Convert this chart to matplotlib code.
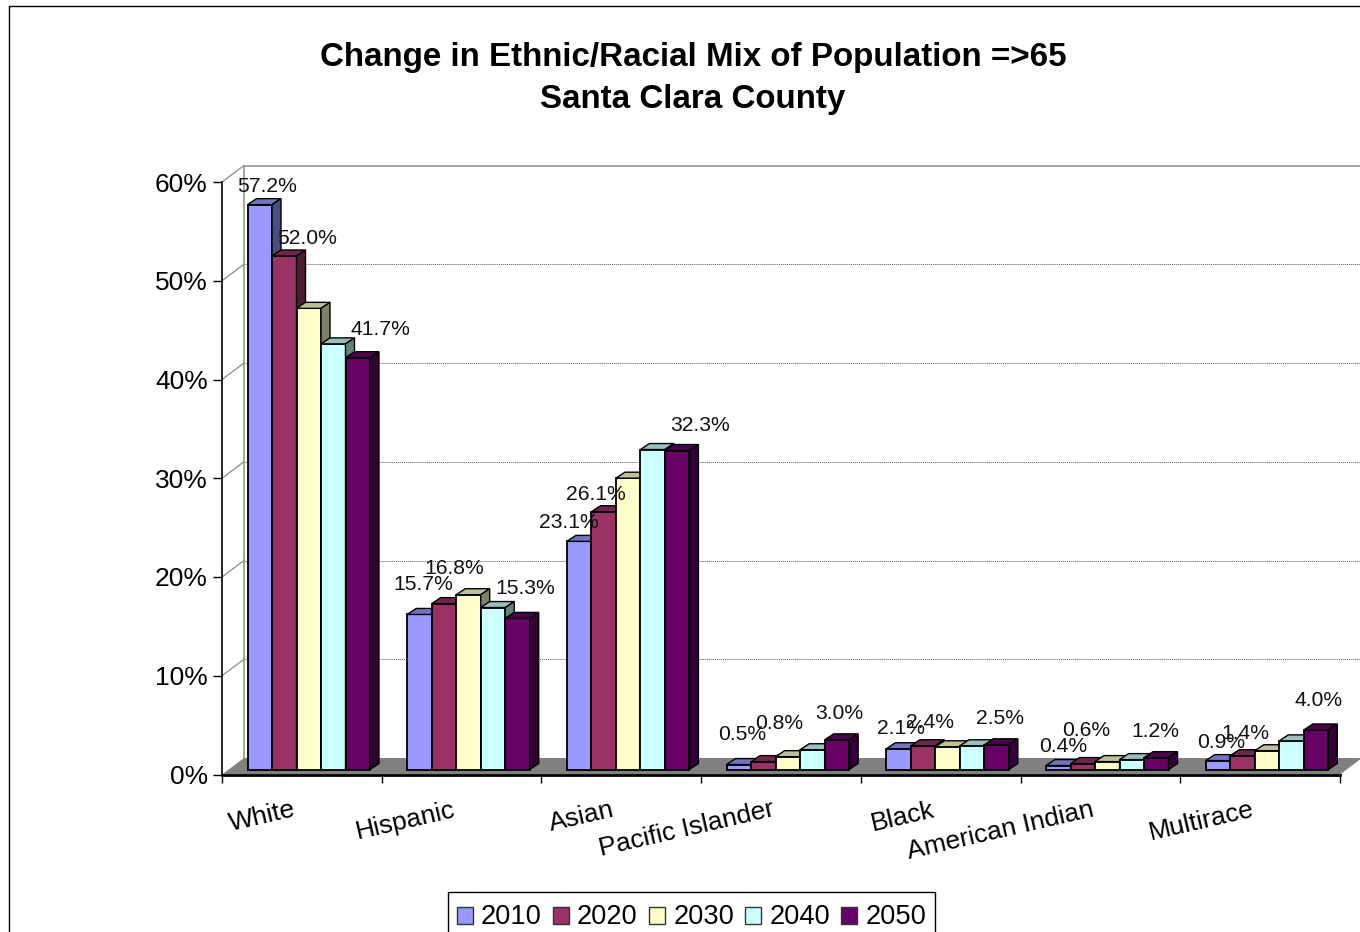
import matplotlib
matplotlib.use('Agg')
import matplotlib.pyplot as plt
from matplotlib.patches import Patch, Polygon, Rectangle

plt.rcParams['font.family'] = ['Liberation Sans', 'DejaVu Sans']

# values in percent
categories = ['White', 'Hispanic', 'Asian', 'Pacific Islander', 'Black', 'American Indian', 'Multirace']
years = ['2010', '2020', '2030', '2040', '2050']
y2010 = [57.2, 15.7, 23.1, 0.5, 2.1, 0.4, 0.9]
y2020 = [52.0, 16.8, 26.1, 0.8, 2.4, 0.6, 1.4]
y2030 = [46.7, 17.7, 29.5, 1.3, 2.3, 0.8, 1.9]
y2040 = [43.1, 16.4, 32.4, 2.0, 2.4, 1.0, 2.9]
y2050 = [41.7, 15.3, 32.3, 3.0, 2.5, 1.2, 4.0]
series = [y2010, y2020, y2030, y2040, y2050]
colors = ['#9999FF', '#993366', '#FFFFCC', '#CCFFFF', '#660066']
y_ticks = [0, 10, 20, 30, 40, 50, 60]

# hand placed data labels (pixels from the front top of the bar), series 2010, 2020, 2050
label_series = [0, 1, 4]
label_nudge = [
    [(7, 18), (23, 17), (23, 28)],
    [(4, 30), (10, 35), (8, 30)],
    [(-10, 19), (-8, 17), (23, 25)],
    [(3, 30), (16, 38), (2, 26)],
    [(2, 20), (7, 23), (3, 26)],
    [(5, 19), (3, 33), (-1, 26)],
    [(3, 18), (3, 22), (3, 29)],
]

W, H = 1360, 932
fig = plt.figure(figsize=(W / 100, H / 100), dpi=100, facecolor='white')
ax = fig.add_axes([222 / W, (H - 774.5) / H, 1118 / W, 592.5 / H])
ax.set_xlim(0, 7)
ax.set_ylim(0, 60)
ax.patch.set_visible(False)

px_x = 7 / 1118  # one pixel in axis units
px_y = 60 / 592.5

# chart frame, runs off the canvas at right and bottom
fig.add_artist(Rectangle((8.5 / W, -0.1), 1.2, 1.1 - 6 / H, transform=fig.transFigure,
                         fill=False, edgecolor='black', linewidth=1.0))

# walls and floor
depth_x = 22 * px_x
depth_y = 16.5 * px_y
ax.add_patch(Polygon([(0, 0), (depth_x, depth_y), (7 + depth_x, depth_y), (7, 0)],
                     facecolor='#808080', edgecolor='none', clip_on=False, zorder=1))
for t in y_ticks[1:]:
    ax.plot([0, depth_x], [t, t + depth_y], color='#969696', lw=1.0, clip_on=False, zorder=1)
    if t == 60:
        ax.plot([depth_x, 7.2], [t + depth_y] * 2, color='#969696', lw=1.2, clip_on=False, zorder=1)
    else:
        ax.plot([depth_x, 7.2], [t + depth_y] * 2, color='#555555', lw=0.7, ls=(0, (1, 1)),
                clip_on=False, zorder=1)
ax.plot([depth_x, depth_x], [depth_y, 60 + depth_y], color='#969696', lw=1.2, clip_on=False, zorder=1)

# bars
bar_w = 24.5 * px_x
start = 25.5 * px_x
lift = 5 * px_y
bar_dx = 9 * px_x
bar_dy = 6 * px_y


def shade(color, k):
    r, g, b = matplotlib.colors.to_rgb(color)
    return (r * k, g * k, b * k)


z = 3
for i in range(len(categories)):
    for j, vals in enumerate(series):
        left = i + start + j * bar_w
        right = left + bar_w
        top = lift + vals[i]
        ax.bar(left, vals[i], bar_w, bottom=lift, align='edge', color=colors[j],
               edgecolor='black', linewidth=1.3, zorder=z, clip_on=False)
        ax.add_patch(Polygon([(left, top), (left + bar_dx, top + bar_dy),
                              (right + bar_dx, top + bar_dy), (right, top)],
                             facecolor=shade(colors[j], 0.75), edgecolor='black',
                             linewidth=1.0, zorder=z, clip_on=False))
        ax.add_patch(Polygon([(right, lift), (right + bar_dx, lift + bar_dy),
                              (right + bar_dx, top + bar_dy), (right, top)],
                             facecolor=shade(colors[j], 0.5), edgecolor='black',
                             linewidth=1.0, zorder=z, clip_on=False))
        z += 1

# data labels
for i in range(len(categories)):
    for k, j in enumerate(label_series):
        dx, dy = label_nudge[i][k]
        xpos = i + start + (j + 0.5) * bar_w
        v = series[j][i]
        ax.annotate(f'{v:.1f}%', (xpos, lift + v), xytext=(dx * 0.72, dy * 0.72),
                    textcoords='offset points', ha='center', va='center',
                    fontsize=15.2, color='#111111', zorder=200, annotation_clip=False)

# axes
for s in ['top', 'right']:
    ax.spines[s].set_visible(False)
ax.spines['left'].set_linewidth(1.2)
ax.spines['bottom'].set_linewidth(2.0)
ax.spines['left'].set_zorder(100)
ax.spines['bottom'].set_zorder(100)
ax.set_yticks(y_ticks)
ax.set_yticklabels([f'{t}%' for t in y_ticks], fontsize=19)
ax.tick_params(axis='y', length=6.5, width=1.0, pad=3.7)
ax.set_xticks(range(8))
ax.set_xticklabels([])
ax.tick_params(axis='x', length=6, width=1.0)

for i, name in enumerate(categories):
    ax.annotate(name, (i + 0.5, 0), xytext=(-5, -25), textcoords='offset points',
                ha='right', va='center', rotation=13, rotation_mode='anchor',
                fontsize=19, annotation_clip=False)

# title
fig.text(693 / W, 1 - 78.5 / H, 'Change in Ethnic/Racial Mix of Population =>65\nSanta Clara County',
         ha='center', va='center', fontsize=23.9, fontweight='bold', linespacing=1.45)

# legend
handles = [Patch(facecolor=c, edgecolor='#333333', linewidth=1.0) for c in colors]
leg = fig.legend(handles, years, ncol=5, loc='upper center',
                 bbox_to_anchor=(691.5 / W, 1 - 892 / H), fontsize=19.6, frameon=True,
                 fancybox=False, framealpha=1, edgecolor='black', borderpad=0.33,
                 handlelength=0.59, handleheight=0.59, handletextpad=0.3, columnspacing=0.41,
                 borderaxespad=0)
leg.get_frame().set_linewidth(1.0)
for t in leg.get_texts():
    t.set_y(-3)
for h in leg.legend_handles:
    h.set_y(h.get_y() - 3)

fig.savefig('out.png', dpi=100)
